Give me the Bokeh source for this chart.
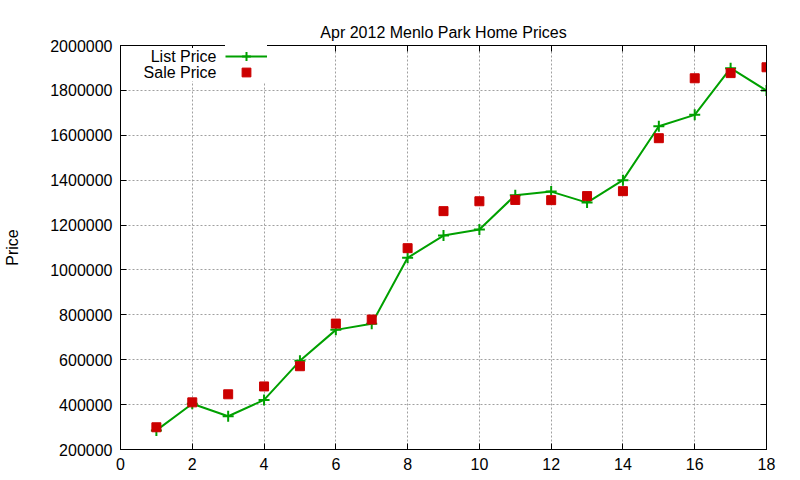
from bokeh.plotting import figure
from bokeh.models import (Range1d, LinearAxis, SingleIntervalTicker, BasicTickFormatter,
                          Legend, LegendItem, Title, Label)
from bokeh.core.properties import value
from bokeh.embed import file_html
from bokeh.resources import INLINE

# Data
homes = list(range(1, 19))
list_price = [285000, 404000, 348000, 421000, 595000, 733000, 760000, 1054000, 1153000,
              1180000, 1333000, 1349000, 1300000, 1400000, 1640000, 1691000, 1899000, 1799000]
sale_price = [299000, 410000, 446000, 481000, 571000, 761000, 779000, 1097000, 1262000,
              1306000, 1312000, 1311000, 1329000, 1351000, 1587000, 1854000, 1877000, 1903000]
series_names = ["List Price", "Sale Price"]
title_text = "Apr 2012 Menlo Park Home Prices"
y_label = "Price"

FONT = "Liberation Sans"
GREEN = "#00a000"
RED = "#cc0000"

p = figure(width=800, height=480, output_backend="svg", toolbar_location=None,
           x_range=Range1d(0, 18), y_range=Range1d(200000, 2000000),
           min_border_left=120, min_border_right=34, min_border_top=45, min_border_bottom=31,
           background_fill_color="white", border_fill_color="white")

p.title = Title(text=title_text, align="center", text_font=FONT, text_font_size="16px",
                text_font_style="normal", text_color="black")
p.outline_line_color = "black"
p.outline_line_width = 1

xt = SingleIntervalTicker(interval=2, num_minor_ticks=0)
yt = SingleIntervalTicker(interval=200000, num_minor_ticks=0)

p.xaxis.ticker = xt
p.yaxis.ticker = yt
p.yaxis.formatter = BasicTickFormatter(use_scientific=False)
p.yaxis.axis_label = y_label

for ax in (p.xaxis[0], p.yaxis[0]):
    ax.major_tick_in = 6
    ax.major_tick_out = 0
    ax.minor_tick_line_color = None
    ax.axis_line_color = "black"
    ax.major_tick_line_color = "black"
    ax.major_label_text_font = FONT
    ax.major_label_text_font_size = "16px"
    ax.major_label_text_color = "black"
    ax.major_label_standoff = 8
p.yaxis.axis_label_text_font = FONT
p.yaxis.axis_label_text_font_size = "16px"
p.yaxis.axis_label_text_font_style = "normal"
p.yaxis.axis_label_text_color = "black"
p.yaxis.axis_label_standoff = 26

# mirrored ticks on the right and top (no labels)
for loc, tk in (("right", yt), ("above", xt)):
    ax = LinearAxis(ticker=tk, major_tick_in=6, major_tick_out=0,
                    minor_tick_line_color=None, axis_line_color="black",
                    major_label_text_font_size="1px", major_label_text_color=None,
                    major_label_standoff=0)
    p.add_layout(ax, loc)

p.grid.grid_line_color = "#a0a0a0"
p.grid.grid_line_dash = "2 2"
p.grid.grid_line_width = 1
p.xgrid.ticker = xt
p.ygrid.ticker = yt

l1 = p.line(homes, list_price, line_color=GREEN, line_width=2)
m1 = p.scatter(homes, list_price, marker="cross", size=11, line_color=GREEN, line_width=2)
s1 = p.scatter(homes, sale_price, marker="square", size=9, fill_color=RED, line_color=RED)

# gnuplot-style key: samples on the right of right-aligned texts
for rends, loc in (([l1, m1], (105, 382)), ([s1], (105, 366))):
    lg = Legend(items=[LegendItem(label=value(""), renderers=rends)],
                location=loc, background_fill_color="white", background_fill_alpha=1,
                border_line_color=None, label_text_font_size="1px",
                glyph_width=42, glyph_height=22, label_height=22, label_width=0,
                spacing=0, padding=0, margin=0, label_standoff=0)
    p.add_layout(lg)

for name, sy in zip(series_names, (393, 377)):
    p.add_layout(Label(x=96, y=sy, x_units="screen", y_units="screen", text=name,
                       text_align="right", text_baseline="middle", text_font=FONT,
                       text_font_size="16px", text_color="black",
                       background_fill_color="white", background_fill_alpha=1))

open("out.html", "w").write(file_html(p, INLINE))
